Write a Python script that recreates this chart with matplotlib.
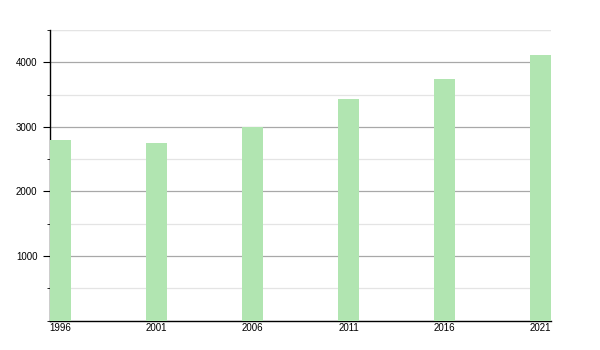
import matplotlib
matplotlib.use("Agg")
import matplotlib.pyplot as plt
from matplotlib.ticker import MultipleLocator

years = ["1996", "2001", "2006", "2011", "2016", "2021"]
population = [2798, 2747, 2995, 3434, 3740, 4116]

plt.rcParams['font.family'] = ['Liberation Sans', 'DejaVu Sans']

fig = plt.figure(figsize=(6, 3.5), dpi=100)
ax = fig.add_axes([50 / 600, 1 - 320.5 / 350, 501 / 600, 290.5 / 350])

w = 0.219
x = list(range(len(years)))
ax.bar(x, population, width=w, color="#b1e5b1", zorder=3)

ax.set_xlim(-w / 2, len(years) - 1 + w / 2)
ax.set_ylim(0, 4500)
ax.set_xticks(x)
ax.set_xticklabels(years)
ax.yaxis.set_major_locator(MultipleLocator(1000))
ax.yaxis.set_minor_locator(MultipleLocator(500))
ax.set_yticks([1000, 2000, 3000, 4000])

ax.grid(axis="y", which="major", color="#a8a8a8", linewidth=0.9, zorder=1)
ax.grid(axis="y", which="minor", color="#e4e4e4", linewidth=0.9, zorder=1)
ax.axhline(4500, color="#e4e4e4", linewidth=0.9, zorder=1)

for s in ["top", "right"]:
    ax.spines[s].set_visible(False)
ax.spines["left"].set_linewidth(1.0)
ax.spines["bottom"].set_linewidth(1.0)

ax.tick_params(axis="y", which="major", length=5, labelsize=7, pad=4)
ax.tick_params(axis="y", which="minor", length=2)
ax.tick_params(axis="x", length=0, labelsize=7, pad=2)

fig.savefig("out.png", dpi=100)
